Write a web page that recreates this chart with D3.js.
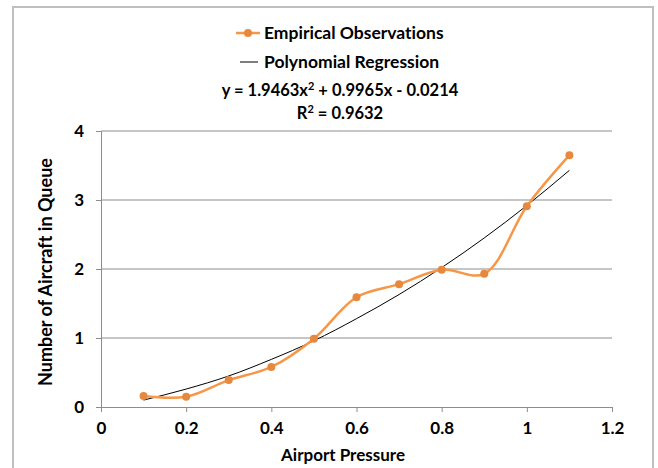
<!DOCTYPE html>
<html>
<head>
<meta charset="utf-8">
<script src="https://cdn.jsdelivr.net/npm/d3@7"></script>
<style>
  body { margin: 0; background: #fff; }
  text { font-family: Lato, "Open Sans", sans-serif; font-weight: bold; fill: #000; font-variant-ligatures: none; }
</style>
</head>
<body>
<div id="chart"></div>
<script>
// values
var pressure = [0.1, 0.2, 0.3, 0.4, 0.5, 0.6, 0.7, 0.8, 0.9, 1.0, 1.1];
var queue = [0.16, 0.15, 0.39, 0.58, 0.99, 1.59, 1.78, 1.99, 1.93, 2.91, 3.65];
var trend = [0.10, 0.26, 0.45, 0.69, 0.96, 1.28, 1.63, 2.02, 2.45, 2.92, 3.43];
var xTicks = [0, 0.2, 0.4, 0.6, 0.8, 1, 1.2];
var yTicks = [0, 1, 2, 3, 4];

var width = 658, height = 468;
var margin = {top: 131, right: 46, bottom: 61, left: 101};
var fontSize = "17px";

var svg = d3.select("#chart")
    .append("svg")
    .attr("width", width)
    .attr("height", height);

// chart frame
svg.append("rect")
    .attr("x", 13).attr("y", 7)
    .attr("width", 640).attr("height", 470)
    .attr("fill", "none")
    .attr("stroke", "#bfbfbf")
    .attr("stroke-width", 2);

var x = d3.scaleLinear().domain([0, 1.2]).range([margin.left, width - margin.right]);
var y = d3.scaleLinear().domain([0, 4]).range([height - margin.bottom, margin.top]);

// gridlines
svg.append("g")
    .selectAll("line")
    .data(yTicks.slice(1))
    .enter()
    .append("line")
    .attr("x1", x(0)).attr("x2", x(1.2))
    .attr("y1", function(d) { return y(d); })
    .attr("y2", function(d) { return y(d); })
    .attr("stroke", "#8c8c8c")
    .attr("stroke-width", 1);

var xAxis = svg.append("g")
    .attr("transform", "translate(0," + y(0) + ")")
    .call(d3.axisBottom(x).tickValues(xTicks).tickSize(5).tickPadding(10)
        .tickFormat(function(d) { return String(d); }));

var yAxis = svg.append("g")
    .attr("transform", "translate(" + x(0) + ",0)")
    .call(d3.axisLeft(y).tickValues(yTicks).tickSize(5).tickPadding(12)
        .tickFormat(d3.format("d")));

[xAxis, yAxis].forEach(function(a) {
    a.select(".domain").attr("stroke", "#8c8c8c");
    a.selectAll(".tick line").attr("stroke", "#8c8c8c");
    a.selectAll(".tick text").style("font-size", fontSize).style("font-family", "Lato, 'Open Sans', sans-serif").style("font-weight", "bold");
});

// trendline
var trendLine = d3.line()
    .x(function(d, i) { return x(pressure[i]); })
    .y(function(d) { return y(d); })
    .curve(d3.curveMonotoneX);

svg.append("path")
    .attr("d", trendLine(trend))
    .attr("fill", "none")
    .attr("stroke", "#000")
    .attr("stroke-width", 1);

// observations, smoothed
var obsLine = d3.line()
    .x(function(d, i) { return x(pressure[i]); })
    .y(function(d) { return y(d); })
    .curve(d3.curveCatmullRom.alpha(0.5));

svg.append("path")
    .attr("d", obsLine(queue))
    .attr("fill", "none")
    .attr("stroke", "#f79646")
    .attr("stroke-width", 2.5);

svg.append("g")
    .selectAll("circle")
    .data(queue)
    .enter()
    .append("circle")
    .attr("cx", function(d, i) { return x(pressure[i]); })
    .attr("cy", function(d) { return y(d); })
    .attr("r", 4)
    .attr("fill", "#e6893f");

// legend
var leg = svg.append("g");
leg.append("line")
    .attr("x1", 236).attr("x2", 260).attr("y1", 33).attr("y2", 33)
    .attr("stroke", "#f79646").attr("stroke-width", 2.5);
leg.append("circle")
    .attr("cx", 248).attr("cy", 33).attr("r", 4).attr("fill", "#e6893f");
leg.append("text")
    .attr("x", 264).attr("y", 33).attr("dy", "0.35em")
    .style("font-size", "17.5px")
    .text("Empirical Observations");

leg.append("line")
    .attr("x1", 240).attr("x2", 258).attr("y1", 62).attr("y2", 62)
    .attr("stroke", "#000").attr("stroke-width", 1);
leg.append("text")
    .attr("x", 264).attr("y", 62).attr("dy", "0.35em")
    .style("font-size", "17.5px")
    .text("Polynomial Regression");

var eq = svg.append("text")
    .attr("x", 340).attr("y", 90).attr("dy", "0.35em")
    .attr("text-anchor", "middle")
    .style("font-size", "16.5px");
eq.append("tspan").text("y = 1.9463x");
eq.append("tspan").attr("dy", "-6").style("font-size", "11px").text("2");
eq.append("tspan").attr("dy", "6").text(" + 0.9965x - 0.0214");

var r2 = svg.append("text")
    .attr("x", 340).attr("y", 113).attr("dy", "0.35em")
    .attr("text-anchor", "middle")
    .style("font-size", "16.5px");
r2.append("tspan").text("R");
r2.append("tspan").attr("dy", "-6").style("font-size", "11px").text("2");
r2.append("tspan").attr("dy", "6").text(" = 0.9632");

// axis titles
svg.append("text")
    .attr("x", 343).attr("y", 455).attr("dy", "0.35em")
    .attr("text-anchor", "middle")
    .style("font-size", fontSize)
    .text("Airport Pressure");

svg.append("text")
    .attr("transform", "translate(46,272) rotate(-90)")
    .attr("dy", "0.35em")
    .attr("text-anchor", "middle")
    .style("font-size", "18px")
    .text("Number of Aircraft in Queue");
</script>
</body>
</html>
